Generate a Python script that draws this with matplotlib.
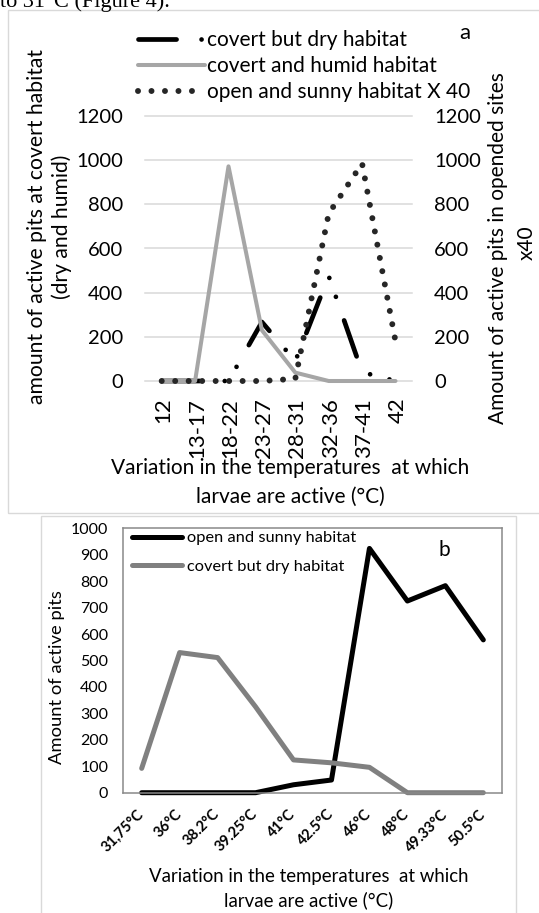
import matplotlib
matplotlib.use('Agg')
import matplotlib.pyplot as plt
from matplotlib.patches import Rectangle
from matplotlib.transforms import ScaledTranslation
import numpy as np

plt.rcParams['font.family'] = ['Lato', 'DejaVu Sans']
plt.rcParams['lines.scale_dashes'] = False

# ---------------- data ----------------
a_categories = ['12', '13-17', '18-22', '23-27', '28-31', '32-36', '37-41', '42']
a_covert_dry = [0, 0, 0, 267, 90, 475, 40, 0]
a_covert_humid = [0, 0, 972, 230, 38, 0, 0, 0]
a_open_sunny_x40 = [0, 0, 0, 0, 10, 758, 985, 180]
a_labels = ['covert but dry habitat', 'covert and humid habitat', 'open and sunny habitat X 40']
a_yticks = [0, 200, 400, 600, 800, 1000, 1200]

b_categories = ['31,75°C', '36°C', '38.2°C', '39.25°C', '41°C', '42.5°C',
                '46°C', '48°C', '49.33°C', '50.5°C']
b_open_sunny = [0, 0, 0, 0, 30, 48, 924, 725, 783, 578]
b_covert_dry = [92, 530, 511, 325, 124, 113, 96, 0, 0, 0]
b_labels = ['open and sunny habitat', 'covert but dry habitat']
b_yticks = list(range(0, 1001, 100))

xlabel_lines = ['Variation in the temperatures  at which', 'larvae are active (°C)']

# ---------------- figure ----------------
W, H = 539, 913
fig = plt.figure(figsize=(W / 100, H / 100), dpi=100)


def fx(x):
    return x / W


def fy(y):
    return 1 - y / H


# page text cut at top
fig.text(fx(0), fy(7.5), 'to 31°C (Figure 4).', family='Liberation Serif',
         fontsize=16, ha='left', va='baseline')

# frames
fig.patches.append(Rectangle((fx(8.3), fy(513)), fx(560) - fx(8.3), fy(10) - fy(513),
                             transform=fig.transFigure, fill=False, ec='#d9d9d9', lw=1.0))
fig.patches.append(Rectangle((fx(40.5), fy(930)), fx(516) - fx(40.5), fy(516) - fy(930),
                             transform=fig.transFigure, fill=False, ec='#d9d9d9', lw=1.0))

# ---------------- chart a ----------------
ax = fig.add_axes([fx(145), fy(381), 267.2 / W, 265 / H])
xa = np.arange(len(a_categories))
l_dry, = ax.plot(xa, a_covert_dry, color='black', lw=3.4,
                 dashes=(27.4, 18.0, 0.01, 14.4, 0.01, 18.0),
                 dash_capstyle='round', dash_joinstyle='round', clip_on=False, zorder=2)
l_hum, = ax.plot(xa, a_covert_humid, color='#a6a6a6', lw=2.9,
                 solid_capstyle='round', solid_joinstyle='round', clip_on=False, zorder=3)
ax.set_xlim(-0.5, len(a_categories) - 0.5)
ax.set_ylim(0, 1200)
ax.set_yticks(a_yticks)
ax.set_xticks(xa)
ax.set_xticklabels(a_categories, rotation=90)
ax.grid(axis='y', color='#d9d9d9', lw=1.1)
ax.set_axisbelow(True)
for gl in ax.get_ygridlines():
    gl.set_clip_on(False)
for s in ax.spines.values():
    s.set_visible(False)
ax.tick_params(axis='y', length=0, labelsize=14.5, pad=16)
ax.tick_params(axis='x', length=0, labelsize=16, pad=12)
for lab in ax.get_xticklabels():
    lab.set_transform(lab.get_transform() + ScaledTranslation(2 / 100, 0, fig.dpi_scale_trans))

ax2 = ax.twinx()
l_open, = ax2.plot(xa, a_open_sunny_x40, color='#262626', lw=4.3, dashes=(0.01, 9.7),
                   dash_capstyle='round', clip_on=False)
ax2.set_ylim(0, 1200)
ax2.set_yticks(a_yticks)
for s in ax2.spines.values():
    s.set_visible(False)
ax2.tick_params(axis='y', length=0, labelsize=14.5, pad=15.8)

ax2.legend([l_dry, l_hum, l_open], a_labels, loc='upper left',
           bbox_to_anchor=(fx(138.3), fy(30)), bbox_transform=fig.transFigure,
           frameon=False, borderpad=0, borderaxespad=0, handlelength=3.2,
           handletextpad=0.096, labelspacing=0.29, fontsize=15)

fig.text(fx(465), fy(33.3), 'a', fontsize=16, ha='center', va='center')
fig.text(fx(36.7), fy(226.7), 'amount of active pits at covert habitat', rotation=90,
         fontsize=15.2, ha='center', va='center')
fig.text(fx(61.7), fy(226.7), '(dry and humid)', rotation=90,
         fontsize=15.2, ha='center', va='center')
fig.text(fx(498.3), fy(248.3), 'Amount of active pits in opended sites', rotation=90,
         fontsize=15, ha='center', va='center')
fig.text(fx(526.7), fy(242.5), 'x40', rotation=90,
         fontsize=15, ha='center', va='center')
fig.text(fx(290.4), fy(468.3), xlabel_lines[0], fontsize=15, ha='center', va='center')
fig.text(fx(290.4), fy(497), xlabel_lines[1], fontsize=15, ha='center', va='center')

# ---------------- chart b ----------------
bx = fig.add_axes([fx(122.7), fy(792.7), 379.6 / W, 264.4 / H])
xb = np.arange(len(b_categories))
lb1, = bx.plot(xb, b_open_sunny, color='black', lw=3.6, solid_capstyle='round',
               solid_joinstyle='round', clip_on=False)
lb2, = bx.plot(xb, b_covert_dry, color='#808080', lw=3.6, solid_capstyle='round',
               solid_joinstyle='round', clip_on=False)
bx.set_xlim(-0.5, len(b_categories) - 0.5)
bx.set_ylim(0, 1000)
bx.set_yticks(b_yticks)
bx.set_xticks(xb)
bx.set_xticklabels(b_categories, rotation=45, ha='right', va='center',
                   rotation_mode='anchor', fontweight='bold')
for lab in bx.get_xticklabels():
    lab.set_transform(lab.get_transform() + ScaledTranslation(3 / 100, -4 / 100, fig.dpi_scale_trans))
for s in bx.spines.values():
    s.set_color('#898989')
    s.set_linewidth(1.1)
bx.tick_params(axis='y', length=0, labelsize=11.5, pad=10.4)
bx.tick_params(axis='x', length=0, labelsize=10.5, pad=14)

bx.legend([lb1, lb2], b_labels, loc='upper left',
          bbox_to_anchor=(fx(131.7), fy(531)), bbox_transform=fig.transFigure,
          frameon=False, borderpad=0, borderaxespad=0, handlelength=3.05,
          handletextpad=0.3, labelspacing=0.85, fontsize=11.8)

fig.text(fx(444.3), fy(550), 'b', fontsize=15, ha='center', va='center')
fig.text(fx(56.7), fy(676.7), 'Amount of active pits', rotation=90,
         fontsize=13.2, ha='center', va='center')
fig.text(fx(309), fy(876.7), xlabel_lines[0], fontsize=13.4, ha='center', va='center')
fig.text(fx(309), fy(900), xlabel_lines[1], fontsize=13.4, ha='center', va='center')

fig.savefig('out.png', dpi=100)
